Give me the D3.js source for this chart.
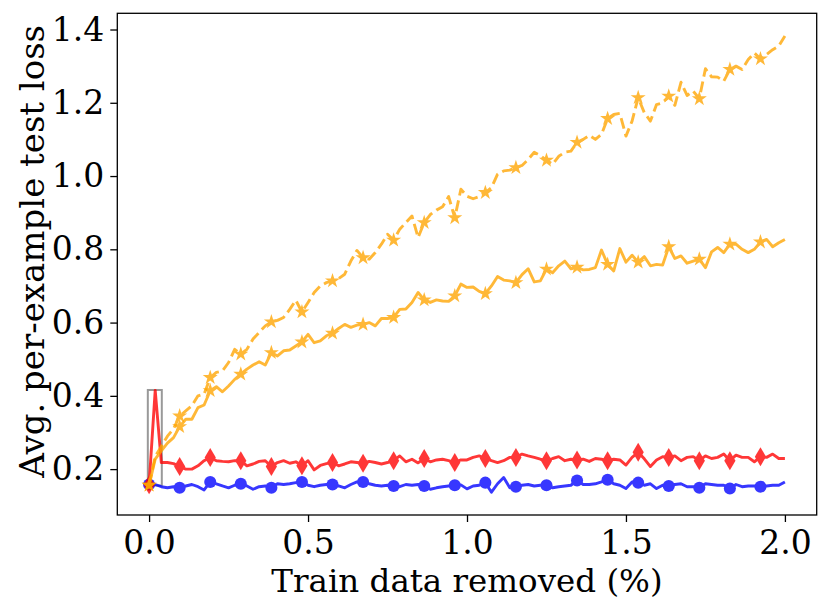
<!DOCTYPE html>
<html>
<head>
<meta charset="utf-8">
<script src="https://cdn.jsdelivr.net/npm/d3@7"></script>
<style>
  body { margin: 0; background: #fff; }
  text { font-family: "DejaVu Serif", serif; fill: #000; }
</style>
</head>
<body>
<div id="chart"></div>
<script>
// x positions: 105 evaluation points from 0% to 2% removed
var xValues = d3.range(105).map(function(i) { return 2 * i / 104; });

var blueLoss = [0.158,0.158,0.152,0.149,0.152,0.149,0.154,0.158,0.152,0.143,
  0.165,0.160,0.154,0.149,0.156,0.160,0.154,0.145,0.152,0.154,
  0.149,0.160,0.158,0.160,0.163,0.165,0.156,0.152,0.156,0.158,
  0.158,0.154,0.149,0.158,0.165,0.165,0.160,0.156,0.154,0.156,
  0.154,0.152,0.158,0.156,0.158,0.154,0.145,0.149,0.152,0.154,
  0.156,0.157,0.146,0.154,0.156,0.163,0.137,0.160,0.177,0.149,
  0.152,0.156,0.158,0.154,0.156,0.156,0.149,0.152,0.154,0.156,
  0.169,0.158,0.158,0.160,0.165,0.171,0.160,0.156,0.147,0.165,
  0.163,0.156,0.160,0.147,0.156,0.154,0.158,0.160,0.152,0.152,
  0.149,0.160,0.158,0.156,0.156,0.147,0.158,0.152,0.154,0.154,
  0.152,0.154,0.156,0.156,0.165];

var redLoss = [0.157,0.415,0.218,0.218,0.215,0.207,0.200,0.200,0.209,0.223,
  0.232,0.223,0.221,0.220,0.223,0.223,0.209,0.214,0.221,0.223,
  0.207,0.218,0.223,0.216,0.220,0.209,0.223,0.198,0.210,0.215,
  0.218,0.209,0.214,0.220,0.218,0.216,0.221,0.218,0.214,0.218,
  0.223,0.236,0.220,0.227,0.217,0.229,0.220,0.225,0.227,0.223,
  0.218,0.225,0.225,0.232,0.236,0.229,0.223,0.218,0.223,0.232,
  0.232,0.241,0.236,0.232,0.227,0.223,0.229,0.234,0.223,0.227,
  0.225,0.227,0.221,0.229,0.227,0.223,0.227,0.225,0.211,0.232,
  0.246,0.228,0.207,0.225,0.234,0.232,0.236,0.223,0.232,0.234,
  0.223,0.236,0.229,0.232,0.241,0.223,0.238,0.232,0.232,0.220,
  0.234,0.232,0.241,0.229,0.229];

var orangeSolid = [0.156,0.227,0.250,0.271,0.286,0.316,0.336,0.336,0.368,0.375,
  0.414,0.425,0.411,0.427,0.445,0.459,0.473,0.484,0.493,0.484,
  0.518,0.509,0.523,0.525,0.536,0.547,0.568,0.545,0.550,0.564,
  0.571,0.584,0.595,0.587,0.593,0.595,0.600,0.591,0.611,0.611,
  0.614,0.636,0.637,0.655,0.682,0.662,0.655,0.662,0.659,0.658,
  0.673,0.705,0.696,0.697,0.685,0.679,0.700,0.726,0.716,0.714,
  0.709,0.731,0.747,0.711,0.714,0.746,0.736,0.755,0.768,0.747,
  0.751,0.744,0.745,0.750,0.798,0.759,0.741,0.802,0.765,0.784,
  0.765,0.780,0.755,0.759,0.757,0.807,0.775,0.782,0.762,0.768,
  0.773,0.750,0.793,0.805,0.791,0.814,0.814,0.800,0.791,0.800,
  0.820,0.827,0.807,0.818,0.827];

var orangeDashed = [0.156,0.235,0.262,0.290,0.310,0.345,0.359,0.373,0.400,0.405,
  0.450,0.464,0.468,0.491,0.527,0.514,0.527,0.555,0.573,0.591,
  0.602,0.606,0.614,0.636,0.661,0.629,0.655,0.682,0.700,0.709,
  0.714,0.720,0.732,0.768,0.797,0.777,0.773,0.791,0.814,0.841,
  0.825,0.855,0.873,0.891,0.832,0.873,0.895,0.907,0.916,0.944,
  0.886,0.964,0.945,0.938,0.944,0.955,0.968,1.005,1.014,1.016,
  1.023,1.029,1.045,1.065,1.056,1.043,1.032,1.054,1.065,1.068,
  1.092,1.100,1.111,1.100,1.114,1.157,1.168,1.171,1.109,1.150,
  1.214,1.173,1.150,1.195,1.200,1.218,1.193,1.256,1.220,1.232,
  1.211,1.293,1.271,1.270,1.259,1.291,1.300,1.291,1.318,1.336,
  1.320,1.332,1.345,1.355,1.382];

// highlighted box around the first red spike: [x0, x1, y0, y1]
var spikeBox = [-0.004, 0.04, 0.155, 0.416];

var xTicks = [0.0, 0.5, 1.0, 1.5, 2.0];
var yTicks = [0.2, 0.4, 0.6, 0.8, 1.0, 1.2, 1.4];

var svgWidth = 831;
var svgHeight = 613;

var margin = {
  top: 13.3,
  right: 14.3,
  bottom: 98,
  left: 117.3
};

var width = svgWidth - margin.left - margin.right;
var height = svgHeight - margin.top - margin.bottom;

var svg = d3.select("#chart")
  .append("svg")
  .attr("width", svgWidth)
  .attr("height", svgHeight);

var chartGroup = svg.append("g")
  .attr("transform", `translate(${margin.left}, ${margin.top})`);

// matplotlib style 5% padding on both axes
var allY = blueLoss.concat(redLoss, orangeSolid, orangeDashed);
var yMin = d3.min(allY), yMax = d3.max(allY);
var yPad = (yMax - yMin) * 0.05;

var xLinearScale = d3.scaleLinear()
  .domain([-0.1, 2.1])
  .range([0, width]);

var yLinearScale = d3.scaleLinear()
  .domain([yMin - yPad, yMax + yPad])
  .range([height, 0]);

// axes
var bottomAxis = d3.axisBottom(xLinearScale)
  .tickValues(xTicks)
  .tickFormat(d3.format(".1f"))
  .tickSizeInner(7)
  .tickSizeOuter(0)
  .tickPadding(9);

var leftAxis = d3.axisLeft(yLinearScale)
  .tickValues(yTicks)
  .tickFormat(d3.format(".1f"))
  .tickSizeInner(7)
  .tickSizeOuter(0)
  .tickPadding(6);

var xAxis = chartGroup.append("g")
  .attr("transform", `translate(0, ${height})`)
  .call(bottomAxis);

var yAxis = chartGroup.append("g")
  .call(leftAxis);

[xAxis, yAxis].forEach(function(ax) {
  ax.select(".domain").remove();
  ax.selectAll("line").attr("stroke", "#000").attr("stroke-width", 1.3);
  ax.selectAll("text")
    .style("font-family", "DejaVu Serif")
    .style("font-size", "33px");
});

// spike box
chartGroup.append("rect")
  .attr("x", xLinearScale(spikeBox[0]))
  .attr("y", yLinearScale(spikeBox[3]))
  .attr("width", xLinearScale(spikeBox[1]) - xLinearScale(spikeBox[0]))
  .attr("height", yLinearScale(spikeBox[2]) - yLinearScale(spikeBox[3]))
  .attr("fill", "none")
  .attr("stroke", "#808080")
  .attr("stroke-opacity", 0.8)
  .attr("stroke-width", 2);

var line = d3.line()
  .x(function(d, i) { return xLinearScale(xValues[i]); })
  .y(function(d) { return yLinearScale(d); });

// thin diamond like matplotlib "d"
var thinDiamond = "M0,-9.5L5.6,0L0,9.5L-5.6,0Z";

var series = [
  { values: blueLoss, color: "blue", dash: null, marker: "circle" },
  { values: redLoss, color: "red", dash: null, marker: "diamond" },
  { values: orangeSolid, color: "orange", dash: null, marker: "star" },
  { values: orangeDashed, color: "orange", dash: "11,5", marker: "star" }
];

series.forEach(function(s) {
  var g = chartGroup.append("g").attr("opacity", 0.78);

  g.append("path")
    .datum(s.values)
    .attr("d", line)
    .attr("fill", "none")
    .attr("stroke", s.color)
    .attr("stroke-width", 2.9)
    .attr("stroke-linejoin", "round")
    .attr("stroke-dasharray", s.dash);

  // marker on every 5th point
  var markPts = s.values.map(function(v, i) { return [xValues[i], v]; })
    .filter(function(d, i) { return i % 5 === 0; });

  var marks = g.selectAll(".mark")
    .data(markPts)
    .enter()
    .append("path")
    .attr("transform", function(d) {
      return `translate(${xLinearScale(d[0])},${yLinearScale(d[1])})`;
    })
    .attr("fill", s.color);

  if (s.marker === "circle") {
    marks.attr("d", d3.symbol().type(d3.symbolCircle).size(115));
  } else if (s.marker === "diamond") {
    marks.attr("d", thinDiamond);
  } else {
    marks.attr("d", d3.symbol().type(d3.symbolStar).size(70));
  }
});

// frame
chartGroup.append("rect")
  .attr("width", width)
  .attr("height", height)
  .attr("fill", "none")
  .attr("stroke", "#000")
  .attr("stroke-width", 1.3);

// axis labels
chartGroup.append("text")
  .attr("x", width / 2)
  .attr("y", height + 77)
  .attr("text-anchor", "middle")
  .style("font-size", "32.5px")
  .text("Train data removed (%)");

chartGroup.append("text")
  .attr("transform", "rotate(-90)")
  .attr("x", -238)
  .attr("y", -73)
  .attr("text-anchor", "middle")
  .style("font-size", "34px")
  .text("Avg. per-example test loss");
</script>
</body>
</html>
